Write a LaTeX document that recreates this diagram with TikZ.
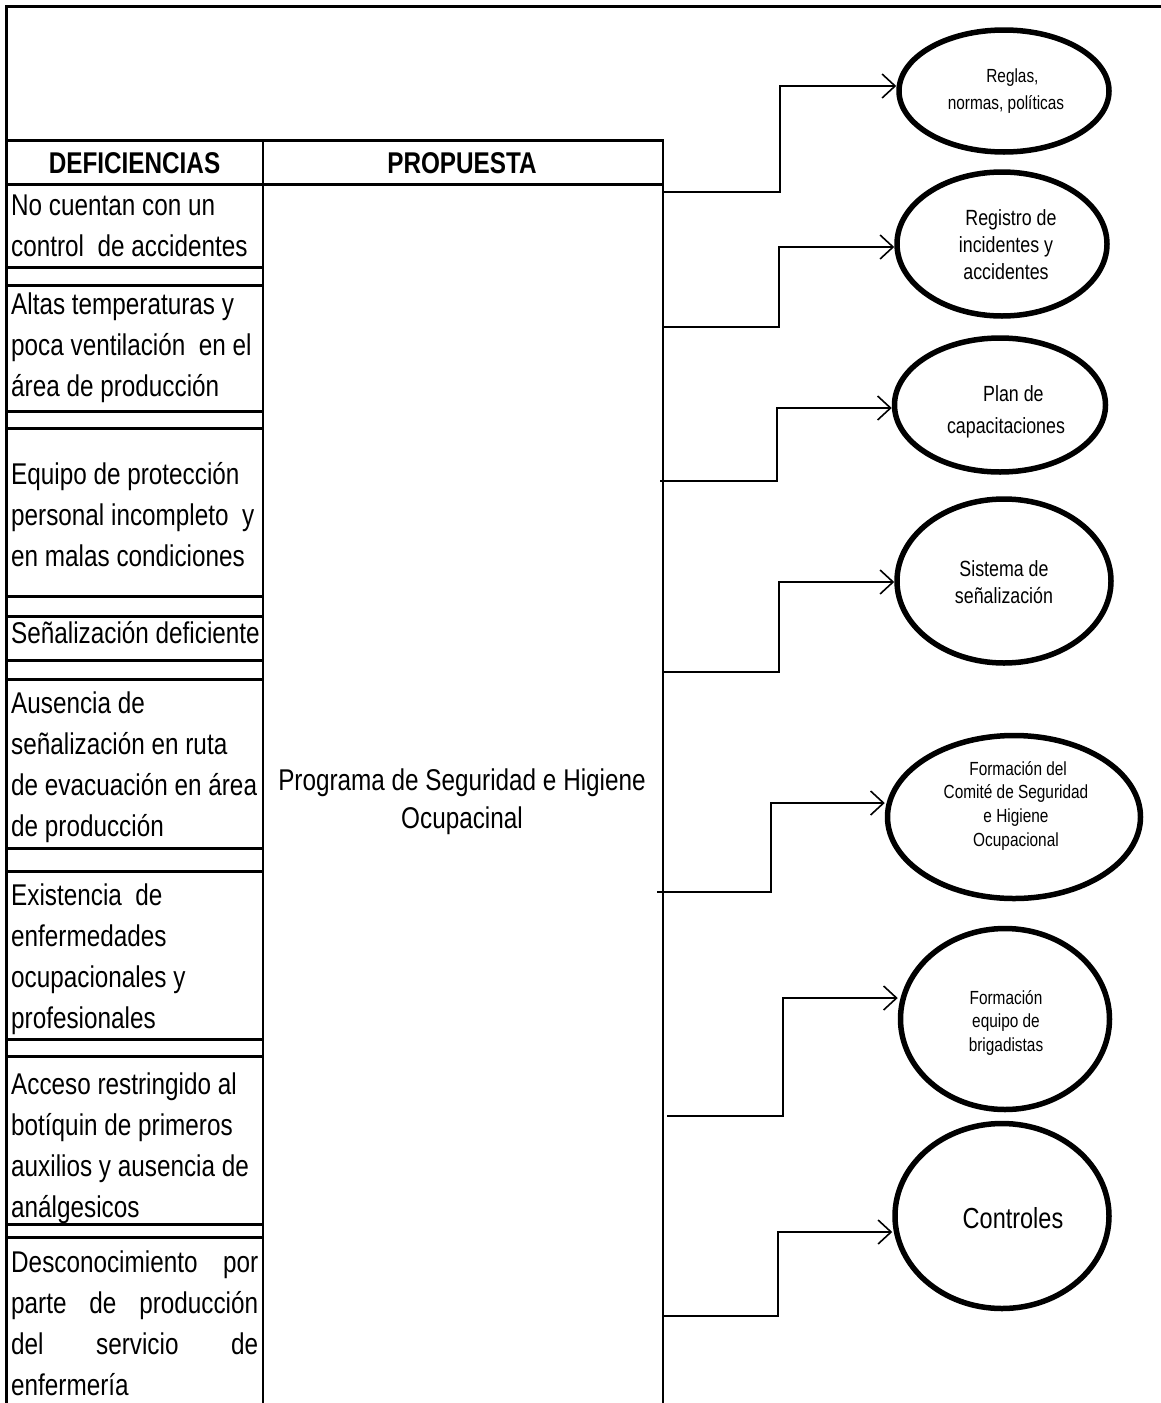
\documentclass[tikz,border=0pt]{standalone}
\usepackage{fontspec}
\setmainfont{Liberation Sans}[FakeStretch=0.81]
\usetikzlibrary{shapes.geometric,arrows.meta}
\begin{document}
\begin{tikzpicture}[x=1pt,y=-1pt,
  tline/.style={line width=3pt},
  vline/.style={line width=2.5pt},
  conn/.style={line width=2pt,-{Straight Barb[length=13pt,width=24pt,line width=1.6pt]}},
  oval/.style={ellipse,draw,line width=5.5pt,inner sep=0pt},
  celltext/.style={inner sep=0pt,anchor=base west,font=\fontsize{30}{41}\selectfont},
  head/.style={inner sep=0pt,anchor=base,font=\bfseries\fontsize{30}{33}\selectfont},
  otext/.style={inner sep=0pt,anchor=base}]
\useasboundingbox (0,0) rectangle (1161,1403);
% frame and table
\draw[tline] (5,6) -- (1161,6);
\draw[tline] (6,5) -- (6,1403);
\draw[tline] (5,140) -- (664,140);
\draw[tline] (5,184) -- (664,184);
\draw[vline] (263,140) -- (263,1403);
\draw[vline] (663,139) -- (663,1403);
\foreach \yy in {267,285,411,428,596,616,660,679,848,871,1039,1056,1224,1237}
  \draw[tline] (6,\yy) -- (263,\yy);
% headers
\node[head] (h1) at (134.5,173) {DEFICIENCIAS};
\node[head] (h2) at (462,173) {PROPUESTA};
% deficiencies
\node[celltext] (d1) at (11,215) {\parbox[t]{252pt}{\raggedright No cuentan con un\\control\ \ de accidentes}};
\node[celltext] (d2) at (11,314) {\parbox[t]{252pt}{\raggedright Altas temperaturas y\\poca ventilación\ \ en el\\área de producción}};
\node[celltext] (d3) at (11,484) {\parbox[t]{252pt}{\raggedright Equipo de protección\\personal incompleto\ \ y\\en malas condiciones}};
\node[celltext] (d4) at (11,643) {\parbox[t]{252pt}{\raggedright Señalización deficiente}};
\node[celltext] (d5) at (11,713) {\parbox[t]{252pt}{\raggedright Ausencia de\\señalización en ruta\\de evacuación en área\\de producción}};
\node[celltext] (d6) at (11,905) {\parbox[t]{252pt}{\raggedright Existencia\ \ de\\enfermedades\\ocupacionales y\\profesionales}};
\node[celltext] (d7) at (11,1094) {\parbox[t]{252pt}{\raggedright Acceso restringido al\\botíquin de primeros\\auxilios y ausencia de\\análgesicos}};
\node[celltext] (d8) at (11,1272) {\parbox[t]{247pt}{Desconocimiento\hfill por\\parte\hfill de\hfill producción\\del\hfill servicio\hfill de\\enfermería}};
% proposal
\node[otext,font=\fontsize{30}{38}\selectfont] (prog) at (462,790) {\parbox[t]{390pt}{\centering Programa de Seguridad e Higiene\\Ocupacinal}};
% ellipses
\node[oval,minimum width=210pt,minimum height=122pt] (e1) at (1004,91) {};
\node[oval,minimum width=210pt,minimum height=144pt] (e2) at (1002,244) {};
\node[oval,minimum width=211pt,minimum height=134pt] (e3) at (1000,405) {};
\node[oval,minimum width=214pt,minimum height=164pt] (e4) at (1004,581) {};
\node[oval,minimum width=253pt,minimum height=163pt] (e5) at (1014,817) {};
\node[oval,minimum width=209pt,minimum height=181pt] (e6) at (1005,1019) {};
\node[oval,minimum width=214pt,minimum height=185pt] (e7) at (1002,1216) {};
% ellipse texts
\node[otext,font=\fontsize{19}{27}\selectfont] (t1) at (1006,82) {\parbox[t]{200pt}{\centering\ \ \ Reglas,\\normas, políticas}};
\node[otext,font=\fontsize{22}{27}\selectfont] (t2) at (1006,225) {\parbox[t]{200pt}{\centering\ \ Registro de\\incidentes y\\accidentes}};
\node[otext,font=\fontsize{22}{32}\selectfont] (t3) at (1006,401) {\parbox[t]{200pt}{\centering\ \ \ Plan de\\capacitaciones}};
\node[otext,font=\fontsize{22}{27}\selectfont] (t4) at (1004,576) {\parbox[t]{200pt}{\centering Sistema de\\señalización}};
\node[otext,font=\fontsize{19}{23.7}\selectfont] (t5) at (1016,775) {\parbox[t]{230pt}{\centering\ Formación del\\Comité de Seguridad\\e Higiene\\Ocupacional}};
\node[otext,font=\fontsize{19}{23.5}\selectfont] (t6) at (1006,1004) {\parbox[t]{200pt}{\centering Formación\\equipo de\\brigadistas}};
\node[otext,font=\fontsize{29}{30}\selectfont] (t7) at (1013,1228) {\parbox[t]{200pt}{\centering Controles}};
% connectors
\coordinate (s1) at (663,192);
\coordinate (s2) at (663,327);
\coordinate (s3) at (660,481);
\coordinate (s4) at (663,672);
\coordinate (s5) at (657,892);
\coordinate (s6) at (667,1116);
\coordinate (s7) at (663,1316);
\draw[conn] (s1) -- (780,192) |- ([yshift=5pt]e1.west);
\draw[conn] (s2) -- (779,327) |- ([yshift=-3pt]e2.west);
\draw[conn] (s3) -- (777,481) |- ([yshift=-3pt]e3.west);
\draw[conn] (s4) -- (779,672) |- ([yshift=-1pt]e4.west);
\draw[conn] (s5) -- (771,892) |- ([yshift=14pt]e5.west);
\draw[conn] (s6) -- (783,1116) |- ([yshift=21pt]e6.west);
\draw[conn] (s7) -- (778,1316) |- ([yshift=-16pt]e7.west);
\end{tikzpicture}
\end{document}
